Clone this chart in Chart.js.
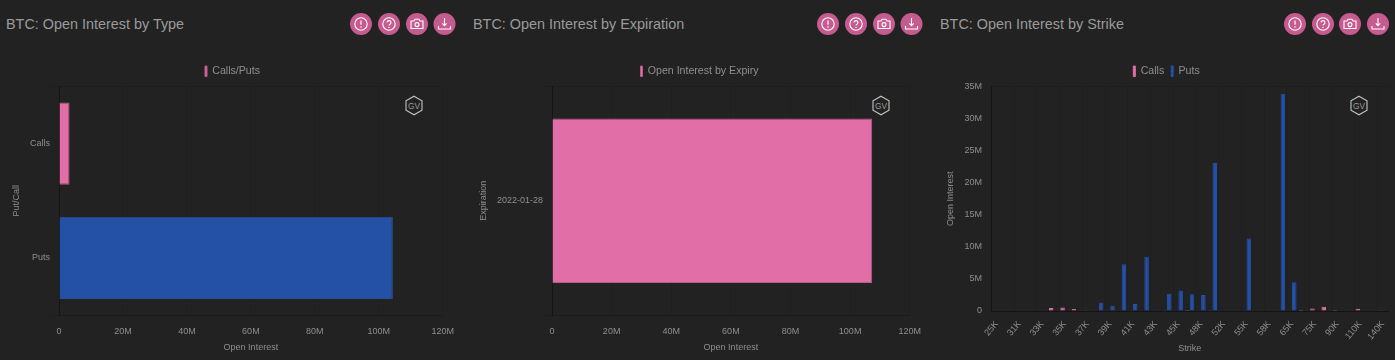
<!DOCTYPE html>
<html><head><meta charset="utf-8">
<script src="https://cdn.jsdelivr.net/npm/chart.js@4"></script>
<style>
html,body{margin:0;padding:0;background:#222;width:1395px;height:360px;overflow:hidden;font-family:"Liberation Sans",Arial,sans-serif}
.t{position:absolute;top:15px;font-size:14.4px;line-height:18px;color:#9a9a9a;white-space:nowrap}
canvas{position:absolute;top:58px}
svg{position:absolute}
</style></head><body>
<div id="root"></div>
<script>
const titles = ["BTC: Open Interest by Type","BTC: Open Interest by Expiration","BTC: Open Interest by Strike"];
const typeLabels = ["Calls","Puts"];
const typeValues = [3300000,104400000];
const expiryLabels = ["2022-01-28"];
const expiryValues = [107400000];
const strikes = ["25K","28K","31K","32K","33K","34K","35K","36K","37K","38K","39K","40K","41K","42K","43K","44K","45K","46K","48K","50K","52K","54K","55K","56K","58K","60K","65K","70K","75K","80K","90K","100K","110K","120K","140K"];
const callValues = [0,0,0,0,0,450000,550000,300000,50000,0,0,0,0,0,0,120000,0,150000,0,30000,0,0,0,0,0,0,0,200000,400000,650000,150000,0,350000,0,30000];
const putValues  = [0,0,0,0,0,0,0,0,0,1300000,800000,7300000,1100000,8450000,0,2700000,3200000,2600000,2500000,23100000,0,0,11300000,0,0,33900000,4500000,100000,0,0,0,0,0,0,0];

const PINK='#e26ea7', PINKB='#b85a8a', BLUE='#2450a5', BLUEB='#2a4f93', TXT='#8f8f8f', GRID='rgba(0,0,0,.1)', GRIDX='rgba(0,0,0,.07)', AXIS='rgba(0,0,0,.35)';
const fmt=v=>v===0?'0':(v/1e6)+'M';
const root=document.getElementById('root');

function chrome(off,title,cx,wx){
  const t=document.createElement('div');t.className='t';t.style.left=(off+6)+'px';t.textContent=title;root.appendChild(t);
  const g=[
   '<circle cx="0" cy="0" r="6.2" fill="none" stroke="#fff" stroke-width="1.1"/><path d="M0-3.4V.8" stroke="#fff" stroke-width="1.2"/><circle cx="0" cy="3" r=".8" fill="#fff"/>',
   '<circle cx="0" cy="0" r="6.2" fill="none" stroke="#fff" stroke-width="1.1"/><path d="M-2-1.4A2 2 0 1 1 .6 .5Q0 .9 0 1.6" fill="none" stroke="#fff" stroke-width="1.1"/><circle cx="0" cy="3.4" r=".7" fill="#fff"/>',
   '<path d="M-6-3H-3L-2-4.8H2L3-3H6V4.5H-6Z" fill="none" stroke="#fff" stroke-width="1.1"/><circle cx="0" cy=".6" r="2" fill="none" stroke="#fff" stroke-width="1.1"/>',
   '<path d="M0-6V1.5M-2.2-.6L0 1.6 2.2-.6M-6 2V5H6V2" fill="none" stroke="#fff" stroke-width="1.1"/>'];
  let s='<svg style="left:0;top:0" width="1395" height="360" xmlns="http://www.w3.org/2000/svg">';
  cx.forEach((x,i)=>{s+=`<circle cx="${x}" cy="24" r="11" fill="#c65b90"/><g transform="translate(${x} 24)">${g[i]}</g>`});
  s+=`<g transform="translate(${wx} 105.5)"><path d="M0-9.3L8-4.6V4.6L0 9.3-8 4.6V-4.6Z" fill="none" stroke="#c4c4c4" stroke-width="1.1"/><text x="0" y="3" text-anchor="middle" textLength="12" lengthAdjust="spacingAndGlyphs" font-size="9" fill="#9a9a9a" font-family="Liberation Sans">GV</text></g></svg>`;
  const d=document.createElement('div');d.innerHTML=s;root.appendChild(d);
}

function scaleText(title,pad){return {display:true,text:title,color:TXT,font:{size:9,family:'Liberation Sans'},padding:pad};}
const tickFont={size:9,family:'Liberation Sans'};

// grid lines on every second category edge (labels are shown every second category)
const edgeGrid={id:'edgeGrid',beforeDatasetsDraw(c){
  if(c.canvas.dataset.edge!=='1')return;
  const x=c.scales.x,a=c.chartArea,ctx=c.ctx,n=x.getLabels().length,half=(x.getPixelForValue(1)-x.getPixelForValue(0))/2;
  ctx.save();ctx.strokeStyle=GRIDX;ctx.lineWidth=1;
  for(let i=0;i<n;i+=2){const p=Math.round(x.getPixelForValue(i)-half)+.5;ctx.beginPath();ctx.moveTo(p,a.top);ctx.lineTo(p,a.bottom);ctx.stroke();}
  ctx.restore();
}};

// invisible spacer axis: reserves the room right of the plot, leaving the legend centred on the full canvas
function spacer(w){return {position:'right',axis:'y',display:true,grid:{display:false},border:{display:false},ticks:{display:false},afterFit(s){s.width=w}};}

function make(off,cfg){
  const c=document.createElement('canvas');c.width=465;c.height=302;c.style.left=off+'px';
  if(cfg.edge)c.dataset.edge='1';
  root.appendChild(c);
  const opts={responsive:false,animation:false,indexAxis:cfg.indexAxis||'x',
    layout:{padding:{top:1}},
    plugins:{tooltip:{enabled:false},legend:{position:'top',labels:{boxWidth:2,boxHeight:10.5,color:TXT,font:{size:10.6,family:'Liberation Sans'},padding:7}}},
    scales:cfg.scales};
  new Chart(c,{type:'bar',data:cfg.data,options:opts,plugins:[edgeGrid]});
}

chrome(0,titles[0],[361,389,417,444.5],414);
chrome(467,titles[1],[828,856,884,911.5],881);
chrome(934,titles[2],[1295,1323,1350,1378],1359);

function hScales(yTitle,L,n){return {
  x:{min:0,max:120000000,grid:{tickLength:0,color:GRIDX},ticks:{stepSize:20000000,color:TXT,font:tickFont,callback:fmt,maxRotation:0,padding:11},
     title:scaleText('Open Interest',{top:4,bottom:7}),afterFit(s){s.height=45}},
  y:{grid:{color:c=>(n>1&&c.index===1)?'transparent':GRID},border:{color:AXIS},ticks:{color:TXT,font:tickFont,padding:1},title:scaleText(yTitle,{top:11,bottom:4}),afterFit(s){s.width=L}},
  sp:spacer(22)
};}

make(0,{indexAxis:'y',
  data:{labels:typeLabels,datasets:[{label:'Calls/Puts',data:typeValues,backgroundColor:[PINK,BLUE],borderColor:[PINKB,BLUEB],borderWidth:1}]},
  scales:hScales('Put/Call',59,2)});
make(467,{indexAxis:'y',
  data:{labels:expiryLabels,datasets:[{label:'Open Interest by Expiry',data:expiryValues,backgroundColor:PINK,borderColor:PINKB,borderWidth:1}]},
  scales:hScales('Expiration',85,1)});
make(934,{edge:true,
  data:{labels:strikes,datasets:[
    {label:'Calls',data:callValues,backgroundColor:PINK,borderColor:PINK,borderWidth:1,barPercentage:1},
    {label:'Puts',data:putValues,backgroundColor:BLUE,borderColor:BLUE,borderWidth:1,barPercentage:1}]},
  scales:{
    x:{grid:{display:false},border:{color:AXIS},ticks:{color:TXT,font:tickFont,autoSkip:false,minRotation:50,maxRotation:50,padding:0,callback(v,i){return i%2===0?this.getLabelForValue(v):null}},
       title:scaleText('Strike',{top:4,bottom:6}),afterFit(s){s.height=49}},
    y:{min:0,max:35000000,border:{color:AXIS},grid:{tickLength:0,color:c=>(c.tick&&c.tick.value>0&&c.tick.value<35000000)?'transparent':GRID},ticks:{stepSize:5000000,color:TXT,font:tickFont,callback:fmt,padding:9},title:scaleText('Open Interest',{top:11,bottom:4}),afterFit(s){s.width=57}},
    sp:spacer(10.5)
  }});
</script>
</body></html>
